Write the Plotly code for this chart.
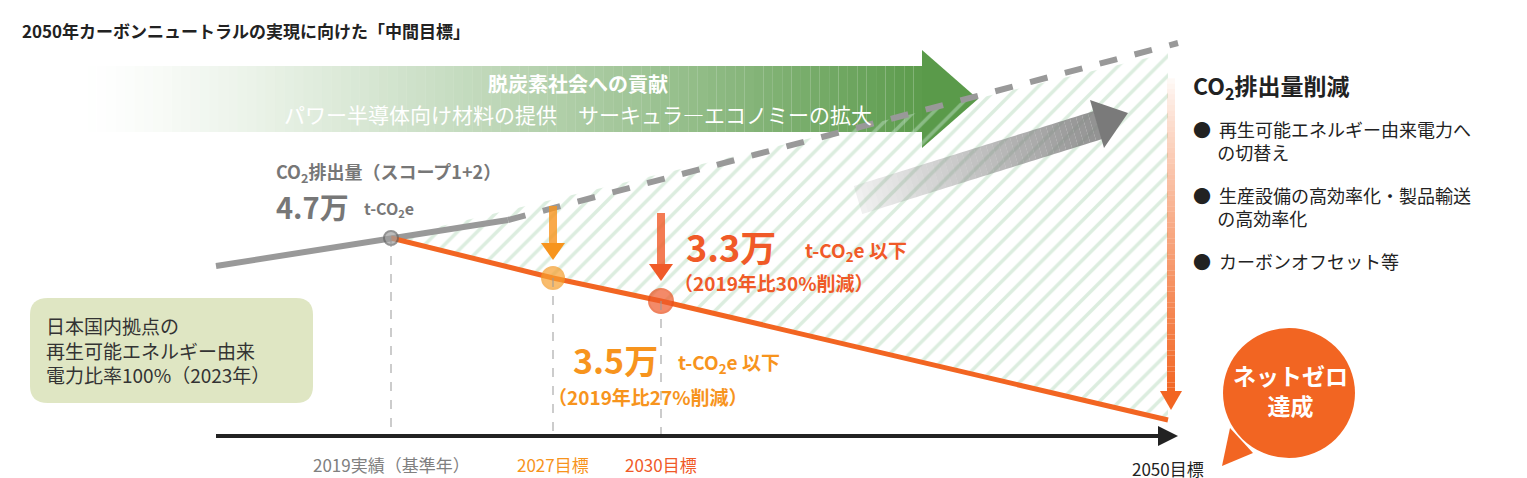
import plotly.graph_objects as go

# ---- data ----
milestones = ["2019実績（基準年）", "2027目標", "2030目標", "2050目標"]
milestone_x = [383, 545, 653, 1160]          # schematic positions on the time axis
milestone_y = [230, 270, 293, 412]           # schematic emission-path positions
milestone_colors = ["#808080", "#f7941d", "#f05a28", "#222222"]
emission_labels = ["4.7万", "3.5万", "3.3万", "0"]
reduction_labels = ["", "（2019年比27%削減）", "（2019年比30%削減）", ""]
bullets = ["再生可能エネルギー由来電力へ<br>の切替え", "生産設備の高効率化・製品輸送<br>の高効率化", "カーボンオフセット等"]

F = "Noto Sans CJK JP"
fig = go.Figure()
shapes = []
ann = []

# green gradient band arrow
n = 90
x0, x1 = 70, 915
for i in range(n):
    a = x0 + (x1 - x0) * i / n
    b = x0 + (x1 - x0) * (i + 1) / n
    op = (i / n) ** 1.3
    shapes.append(dict(type="rect", x0=a, x1=b, y0=58, y1=124, line_width=0,
                       fillcolor=f"rgba(90,154,74,{op:.3f})", layer="below"))
fig.add_trace(go.Scatter(x=[914, 970, 914, 914], y=[42, 91, 140, 42], fill="toself",
                         fillcolor="#5a9a4a", line_width=0, mode="lines", hoverinfo="skip"))

# hatched region
fig.add_trace(go.Scatter(x=[383, 1160, 1160, 383], y=[230, 45, 412, 230], fill="toself",
                         fillcolor="rgba(255,255,255,0)", line_width=0, mode="lines",
                         fillpattern=dict(shape="/", fgcolor="#b9dcc0", size=14, solidity=0.25),
                         hoverinfo="skip"))

# gray line and dashed extension
fig.add_trace(go.Scatter(x=[208, 500], y=[258, 212], mode="lines",
                         line=dict(color="#999999", width=6), hoverinfo="skip"))
fig.add_trace(go.Scatter(x=[500, 1170], y=[212, 35], mode="lines",
                         line=dict(color="#999999", width=6, dash="dash"), hoverinfo="skip"))

# gray gradient arrow
m = 40
xa, ya, xb, yb = 850, 192, 1090, 117
for i in range(m):
    t0, t1 = i / m, (i + 1) / m
    def p(t, off):
        return xa + (xb - xa) * t + off * 0.3, ya + (yb - ya) * t + off
    q = [p(t0, -14), p(t1, -14), p(t1, 14), p(t0, 14)]
    op = 0.12 + 0.75 * t0
    fig.add_trace(go.Scatter(x=[v[0] for v in q] + [q[0][0]], y=[v[1] for v in q] + [q[0][1]],
                             fill="toself", fillcolor=f"rgba(128,128,128,{op:.2f})",
                             line_width=0, mode="lines", hoverinfo="skip"))
fig.add_trace(go.Scatter(x=[1082, 1120, 1096, 1082], y=[92, 105, 140, 92], fill="toself",
                         fillcolor="#7a7a7a", line_width=0, mode="lines", hoverinfo="skip"))

# orange path
fig.add_trace(go.Scatter(x=milestone_x, y=milestone_y, mode="lines",
                         line=dict(color="#f26522", width=5), hoverinfo="skip"))

# vertical orange gradient arrow
k = 60
for i in range(k):
    y_a = 65 + (385 - 65) * i / k
    y_b = 65 + (385 - 65) * (i + 1) / k
    op = (i / k) ** 0.8
    shapes.append(dict(type="rect", x0=1159, x1=1167, y0=y_a, y1=y_b, line_width=0,
                       fillcolor=f"rgba(242,101,34,{op:.3f})"))
fig.add_trace(go.Scatter(x=[1152, 1174, 1163, 1152], y=[383, 383, 402, 383], fill="toself",
                         fillcolor="#f26522", line_width=0, mode="lines", hoverinfo="skip"))

# small down arrows
for xc, top, bot, col in [(545, 198, 252, "#f7941d"), (653, 205, 273, "#f05a28")]:
    shapes.append(dict(type="rect", x0=xc - 4, x1=xc + 4, y0=top, y1=bot - 16, line_width=0,
                       fillcolor=col, opacity=0.8))
    fig.add_trace(go.Scatter(x=[xc - 12, xc + 12, xc, xc - 12], y=[bot - 17, bot - 17, bot, bot - 17],
                             fill="toself", fillcolor=col, line_width=0, mode="lines", hoverinfo="skip"))

# dashed verticals
for xv, yv in zip(milestone_x[:3], milestone_y[:3]):
    shapes.append(dict(type="line", x0=xv, x1=xv, y0=yv, y1=428,
                       line=dict(color="#999999", width=1, dash="dash")))

# axis arrow
shapes.append(dict(type="line", x0=208, x1=1155, y0=428, y1=428, line=dict(color="#222", width=4)))
fig.add_trace(go.Scatter(x=[1150, 1170, 1150, 1150], y=[418, 428, 438, 418], fill="toself",
                         fillcolor="#222", line_width=0, mode="lines", hoverinfo="skip"))

# points
fig.add_trace(go.Scatter(x=milestone_x[:3], y=milestone_y[:3], mode="markers",
                         marker=dict(size=[14, 22, 24], color=["#a0a0a0", "#f7a030", "#ef5a2a"],
                                     line=dict(color=["#666", "#f39c2b", "#e94e1b"], width=2)),
                         hoverinfo="skip"))

# tick labels
for lab, xv, col in zip(milestones, milestone_x, milestone_colors):
    ann.append(dict(x=xv, y=456 if lab != "2050目標" else 460, text=lab, showarrow=False,
                    font=dict(size=17, color=col, family=F)))

# left labels
ann.append(dict(x=266, y=164, xanchor="left", text="CO<sub>2</sub>排出量（スコープ1+2）", showarrow=False,
                font=dict(size=18, color="#777", family=F, weight="bold")))
ann.append(dict(x=266, y=198, xanchor="left", text=emission_labels[0], showarrow=False,
                font=dict(size=29, color="#777", family=F, weight="bold")))
ann.append(dict(x=354, y=200, xanchor="left", text="t-CO<sub>2</sub>e", showarrow=False,
                font=dict(size=16, color="#777", family=F, weight="bold")))

# 2030
ann.append(dict(x=676, y=238, xanchor="left", text=emission_labels[2], showarrow=False,
                font=dict(size=36, color="#f05a28", family=F, weight="bold")))
ann.append(dict(x=795, y=243, xanchor="left", text="t-CO<sub>2</sub>e 以下", showarrow=False,
                font=dict(size=19, color="#f05a28", family=F, weight="bold")))
ann.append(dict(x=664, y=274, xanchor="left", text=reduction_labels[2], showarrow=False,
                font=dict(size=19, color="#f05a28", family=F, weight="bold")))
# 2027
ann.append(dict(x=563, y=351, xanchor="left", text=emission_labels[1], showarrow=False,
                font=dict(size=34, color="#f7941d", family=F, weight="bold")))
ann.append(dict(x=668, y=355, xanchor="left", text="t-CO<sub>2</sub>e 以下", showarrow=False,
                font=dict(size=19, color="#f7941d", family=F, weight="bold")))
ann.append(dict(x=538, y=388, xanchor="left", text=reduction_labels[1], showarrow=False,
                font=dict(size=19, color="#f7941d", family=F, weight="bold")))

# green band text
ann.append(dict(x=570, y=75, text="脱炭素社会への貢献", showarrow=False,
                font=dict(size=20, color="white", family=F, weight="bold")))
ann.append(dict(x=570, y=106, text="パワー半導体向け材料の提供　サーキュラ―エコノミーの拡大", showarrow=False,
                font=dict(size=21, color="white", family=F)))

# title
ann.append(dict(x=12, y=22, xanchor="left", text="2050年カーボンニュートラルの実現に向けた「中間目標」",
                showarrow=False, font=dict(size=17, color="#222", family=F, weight="bold")))

# info box
shapes.append(dict(type="path", path="M 40 290 L 288 290 Q 305 290 305 307 L 305 378 Q 305 395 288 395 "
                   "L 40 395 Q 22 395 22 378 L 22 307 Q 22 290 40 290 Z",
                   fillcolor="#dfe6c3", line_width=0, layer="below"))
ann.append(dict(x=36, y=342, xanchor="left", align="left",
                text="日本国内拠点の<br>再生可能エネルギー由来<br>電力比率100%（2023年）",
                showarrow=False, font=dict(size=19, color="#333", family=F)))

# right panel
ann.append(dict(x=1183, y=78, xanchor="left", text="CO<sub>2</sub>排出量削減", showarrow=False,
                font=dict(size=23, color="#222", family=F, weight="bold")))
by = [132, 198, 253]
for t, yy in zip(bullets, by):
    ann.append(dict(x=1183, y=yy, xanchor="left", align="left", text="●  " + t.replace("<br>", "<br>      "),
                    showarrow=False, font=dict(size=18, color="#222", family=F), yanchor="middle"))

# speech bubble
shapes.append(dict(type="circle", x0=1215, x1=1347, y0=320, y1=450, fillcolor="#f26522", line_width=0))
fig.add_trace(go.Scatter(x=[1222, 1214, 1245, 1222], y=[420, 458, 445, 420], fill="toself",
                         fillcolor="#f26522", line_width=0, mode="lines", hoverinfo="skip"))
ann.append(dict(x=1282, y=382, text="ネットゼロ<br>達成", showarrow=False,
                font=dict(size=23, color="white", family=F, weight="bold")))

fig.update_layout(width=1527, height=478, margin=dict(l=0, r=0, t=0, b=0),
                  plot_bgcolor="white", paper_bgcolor="white", showlegend=False,
                  shapes=shapes, annotations=ann,
                  xaxis=dict(range=[0, 1527], visible=False, fixedrange=True),
                  yaxis=dict(range=[478, 0], visible=False, fixedrange=True))
fig.write_html("out.html")
